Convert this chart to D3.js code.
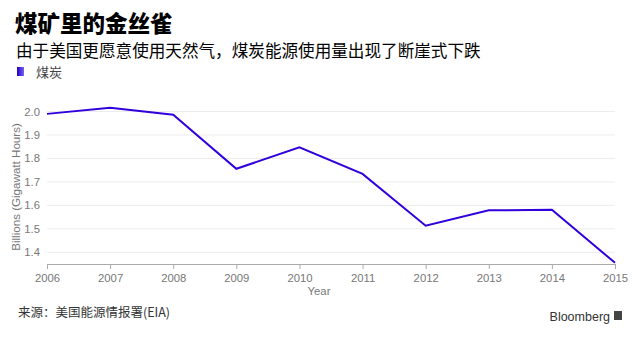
<!DOCTYPE html>
<html><head><meta charset="utf-8">
<script src="https://cdn.jsdelivr.net/npm/d3@7"></script>
<style>body{margin:0;background:#fff}svg{display:block}</style>
</head><body>
<script>
const years = [2006,2007,2008,2009,2010,2011,2012,2013,2014,2015];
const coal = [1.990,2.016,1.986,1.756,1.847,1.734,1.513,1.579,1.581,1.355];
const yTicks = [1.4,1.5,1.6,1.7,1.8,1.9,2.0];
const title = "煤矿里的金丝雀";
const subtitle = "由于美国更愿意使用天然气，煤炭能源使用量出现了断崖式下跌";
const seriesName = "煤炭";
const source = "来源：美国能源情报署(EIA)";

const W=640,H=339;
const font = "'Liberation Sans', Arial, 'Noto Sans CJK SC', sans-serif";
const cjk = "'Noto Sans CJK SC', sans-serif";
const svg = d3.select("body").append("svg").attr("width",W).attr("height",H);

const x = d3.scaleLinear().domain([2006,2015]).range([47,615]);
const y = d3.scaleLinear().domain([1.35,2.05]).range([264,99.8]);

const defs = svg.append("defs");
const g = defs.append("linearGradient").attr("id","lg").attr("x1","0").attr("y1","0").attr("x2","1").attr("y2","0");
g.append("stop").attr("offset","0").attr("stop-color","#2200c0");
g.append("stop").attr("offset","1").attr("stop-color","#7d62f5");

svg.append("text").attr("x",15).attr("y",32).attr("font-family",cjk).attr("font-weight","900").attr("font-size",22.5).attr("fill","#000").text(title);
svg.append("text").attr("x",16).attr("y",57).attr("font-family",cjk).attr("font-size",16.6).attr("fill","#000").text(subtitle);
svg.append("rect").attr("x",17).attr("y",67).attr("width",7).attr("height",9).attr("fill","url(#lg)");
svg.append("text").attr("x",36).attr("y",77).attr("font-family",cjk).attr("font-size",13).attr("fill","#444").text(seriesName);

// gridlines
svg.append("g").selectAll("line").data(yTicks).join("line")
  .attr("x1",47).attr("x2",615).attr("y1",d=>y(d)).attr("y2",d=>y(d))
  .attr("stroke","#ececec").attr("stroke-width",1);

// y labels
svg.append("g").selectAll("text").data(yTicks).join("text")
  .attr("x",40).attr("y",d=>y(d)+4).attr("text-anchor","end")
  .attr("font-family",font).attr("font-size",11.3).attr("fill","#777")
  .text(d=>d3.format(".1f")(d));

svg.append("text").attr("transform","translate(20,187) rotate(-90)").attr("text-anchor","middle")
  .attr("font-family",font).attr("font-size",11.6).attr("fill","#777").text("Billions (Gigawatt Hours)");

// x axis
const xAxis = d3.axisBottom(x).tickValues(years).tickFormat(d3.format("d")).tickSize(5).tickSizeOuter(0);
const ax = svg.append("g").attr("transform","translate(0,264)").call(xAxis);
ax.select(".domain").attr("stroke","#aaa");
ax.selectAll(".tick line").attr("stroke","#aaa");
ax.selectAll(".tick text").attr("font-family",font).attr("font-size",11.3).attr("fill","#777").attr("dy","0.85em");

svg.append("text").attr("x",319).attr("y",295).attr("text-anchor","middle")
  .attr("font-family",font).attr("font-size",11.3).attr("fill","#777").text("Year");

// line
const line = d3.line().x((d,i)=>x(years[i])).y(d=>y(d));
svg.append("path").datum(coal).attr("d",line).attr("fill","none")
  .attr("stroke","#3000dd").attr("stroke-width",2).attr("stroke-linejoin","miter");

svg.append("text").attr("x",18).attr("y",317).attr("font-family",cjk).attr("font-size",12.5).attr("fill","#333").text(source);

svg.append("text").attr("x",610).attr("y",321).attr("text-anchor","end")
  .attr("font-family",font).attr("font-size",12.5).attr("fill","#333").text("Bloomberg");
svg.append("rect").attr("x",614).attr("y",311).attr("width",8).attr("height",9).attr("fill","#444");
</script>
</body></html>
